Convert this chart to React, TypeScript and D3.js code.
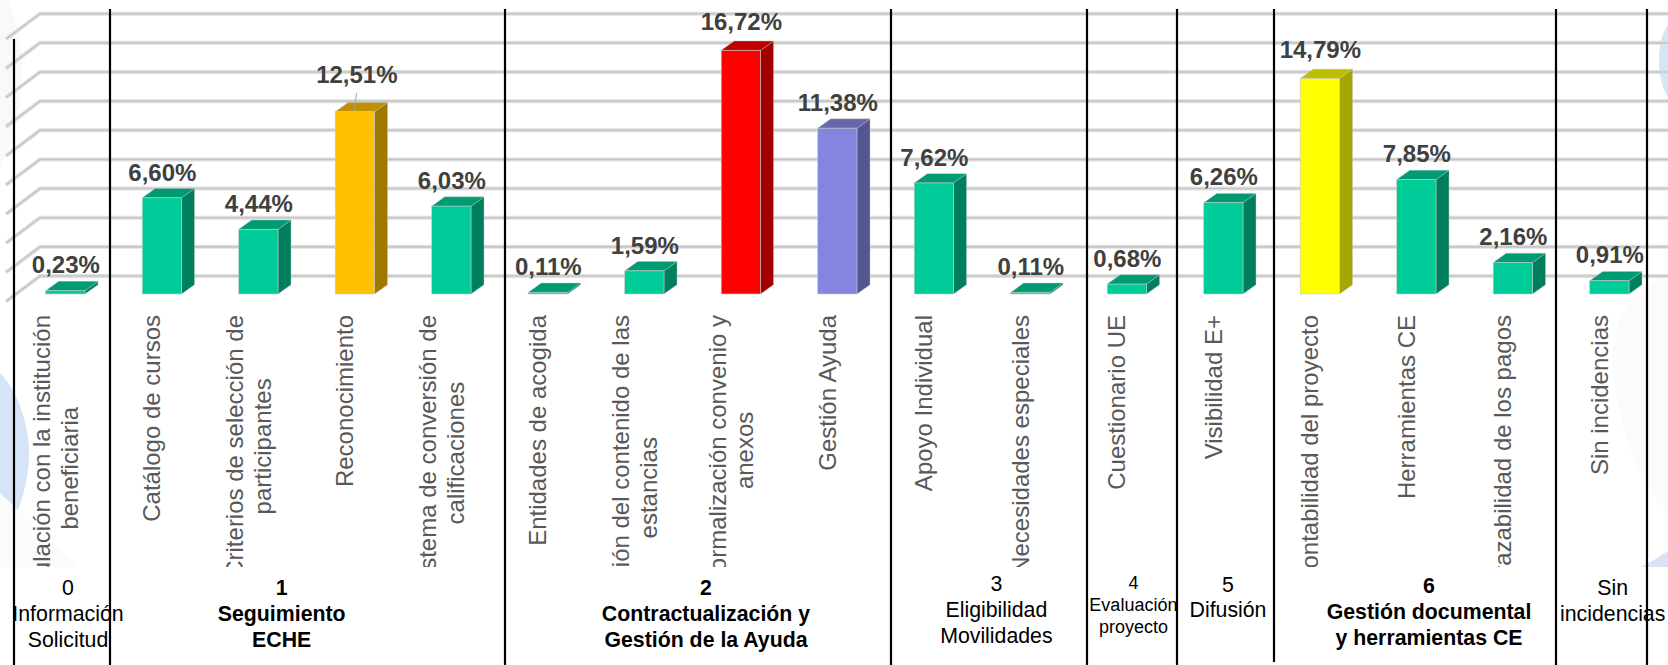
import React, { useRef, useEffect } from 'react';
import * as d3 from 'd3';

const categories = [
  ['Vinculación con la institución', 'beneficiaria'],
  ['Catálogo de cursos'],
  ['Criterios de selección de', 'participantes'],
  ['Reconocimiento'],
  ['Sistema de conversión de', 'calificaciones'],
  ['Entidades de acogida'],
  ['Descripción del contenido de las', 'estancias'],
  ['Formalización convenio y', 'anexos'],
  ['Gestión Ayuda'],
  ['Apoyo Individual'],
  ['Necesidades especiales'],
  ['Cuestionario UE'],
  ['Visibilidad E+'],
  ['Contabilidad del proyecto'],
  ['Herramientas CE'],
  ['Trazabilidad de los pagos'],
  ['Sin incidencias'],
];
const values = [0.23, 6.6, 4.44, 12.51, 6.03, 0.11, 1.59, 16.72, 11.38, 7.62, 0.11, 0.68, 6.26, 14.79, 7.85, 2.16, 0.91];
const barTones = ['g', 'g', 'g', 'o', 'g', 'g', 'g', 'r', 'p', 'g', 'g', 'g', 'g', 'y', 'g', 'g', 'g'];
const gridTicks = [0, 2, 4, 6, 8, 10, 12, 14, 16, 18];

const groupTitles = [
  ['0', 'Información', 'Solicitud'],
  ['1', 'Seguimiento', 'ECHE'],
  ['2', 'Contractualización y', 'Gestión de la Ayuda'],
  ['3', 'Eligibilidad', 'Movilidades'],
  ['4', 'Evaluación', 'proyecto'],
  ['5', 'Difusión'],
  ['6', 'Gestión documental', 'y herramientas CE'],
  ['Sin', 'incidencias'],
];
const groupBold = [false, true, true, false, false, false, true, false];

// layout of the footer boxes, hand placed in the original slide
const groupX = [68, 281.7, 706, 996.4, 1133.4, 1228, 1429, 1612.7];
const groupY = [595, 595, 595, 591, 589, 592, 593, 595];
const groupSize = [21.3, 21.3, 21.3, 21.3, 18, 21.3, 21.3, 21.3];
const groupLeading = [26, 26, 26, 26, 22, 25, 26, 26];
const separators = [
  { x: 14, top: 39, bottom: 665 },
  { x: 110, top: 9, bottom: 665 },
  { x: 505, top: 9, bottom: 665 },
  { x: 891, top: 9, bottom: 665 },
  { x: 1087, top: 9, bottom: 665 },
  { x: 1177, top: 9, bottom: 665 },
  { x: 1274, top: 9, bottom: 662 },
  { x: 1556, top: 9, bottom: 665 },
  { x: 1647, top: 9, bottom: 665 },
];

const tones: Record<string, { front: string; top: string; side: string }> = {
  g: { front: '#00cc99', top: '#009a73', side: '#007f5f' },
  o: { front: '#ffc000', top: '#c09000', side: '#a07800' },
  r: { front: '#ff0000', top: '#c00000', side: '#a00000' },
  p: { front: '#8585e0', top: '#6666a8', side: '#555590' },
  y: { front: '#ffff00', top: '#bfbf00', side: '#a6a600' },
};

const FONT = "'Liberation Sans', Arial, sans-serif";
const W = 1668;
const H = 665;
const depthX = 13;
const depthY = 9.3;

export default function App() {
  const svgRef = useRef<SVGSVGElement>(null);

  useEffect(() => {
    if (!svgRef.current) return;
    const svg = d3.select(svgRef.current);
    svg.selectAll('*').remove();

    const x = d3.scaleBand<number>()
      .domain(values.map((_, i) => i))
      .range([17.1, 1657.6])
      .paddingInner(0.593)
      .paddingOuter(0.2965);
    const y = d3.scaleLinear().domain([0, 18]).range([294, 31.7]);
    const bw = x.bandwidth();

    // Faint background artwork
    const bg = svg.append('g');
    bg.append('path').attr('d', 'M8,0 C30,50 26,110 0,170 L0,0 Z').attr('fill', '#f9f9f9');
    bg.append('path').attr('d', 'M0,493 L18,510 Q40,535 80,567 L0,567 Z').attr('fill', '#fbfbfb');
    bg.append('path').attr('d', 'M0,373 C22,395 33,440 28,470 Q25,492 18,510 L0,493 Z').attr('fill', '#d6e4f5');
    bg.append('path').attr('d', 'M1668,25 C1656,40 1656,80 1668,97 Z').attr('fill', '#d6e4f5');
    bg.append('path').attr('d', 'M1668,275 C1625,290 1606,330 1615,385 C1625,450 1645,495 1668,510 Z').attr('fill', '#fbfbfb');
    bg.append('path').attr('d', 'M1641,567 Q1655,560 1668,551 L1668,567 Z').attr('fill', '#d6e4f5');

    // Gridlines, back wall and left wall
    const grid = svg.append('g').attr('fill', 'none');
    gridTicks.forEach((t) => {
      const wy = y(t) - 18;
      const path = `M6,${wy + 25.5} L40,${wy} L${W},${wy}`;
      grid.append('path').attr('d', path).attr('stroke', '#e0e0e0').attr('stroke-width', 4);
      grid.append('path').attr('d', path).attr('stroke', '#c6c6c6').attr('stroke-width', 1.6);
    });

    // Bars
    const bars = svg.append('g');
    values.forEach((v, i) => {
      const left = x(i) || 0;
      const right = left + bw;
      const base = y(0);
      const top = y(v);
      const tone = tones[barTones[i]];
      bars.append('path')
        .attr('d', `M${right},${top} L${right + depthX},${top - depthY} L${right + depthX},${base - depthY} L${right},${base} Z`)
        .attr('fill', tone.side).attr('stroke', '#b8c4c0').attr('stroke-width', 0.4);
      bars.append('path')
        .attr('d', `M${left},${top} L${left + depthX},${top - depthY} L${right + depthX},${top - depthY} L${right},${top} Z`)
        .attr('fill', tone.top).attr('stroke', '#b8c4c0').attr('stroke-width', 0.4);
      bars.append('rect')
        .attr('x', left).attr('y', top).attr('width', bw).attr('height', base - top)
        .attr('fill', tone.front).attr('stroke', '#c4ccc8').attr('stroke-width', 0.6);
    });

    // Leader for the one label that was dragged away from its bar
    const reconocimiento = 3;
    const lx = (x(reconocimiento) || 0) + bw / 2;
    svg.append('line')
      .attr('x1', lx + 1.7).attr('y1', y(values[reconocimiento]) - 19)
      .attr('x2', lx - 0.7).attr('y2', y(values[reconocimiento]))
      .attr('stroke', '#a6a6a6').attr('stroke-width', 1);

    // Value labels
    svg.append('g')
      .selectAll('text')
      .data(values)
      .enter()
      .append('text')
      .attr('x', (_, i) => (x(i) || 0) + bw / 2 + (i === reconocimiento ? 2 : 0.5))
      .attr('y', (d, i) => y(d) - (i === reconocimiento ? 28.5 : d > 14 ? 20.5 : 17.3))
      .attr('text-anchor', 'middle')
      .attr('font-family', FONT)
      .attr('font-size', 24)
      .attr('font-weight', 700)
      .attr('fill', '#404040')
      .text((d) => `${d3.format('.2f')(d).replace('.', ',')}%`);

    // Rotated category labels, cut off at the bottom of the axis box
    svg.append('clipPath').attr('id', 'cat-clip')
      .append('rect').attr('x', 0).attr('y', 300).attr('width', W).attr('height', 267);
    const cats = svg.append('g').attr('clip-path', 'url(#cat-clip)');
    categories.forEach((lines, i) => {
      const cx = (x(i) || 0) + bw / 2 - 1.5;
      const texts = lines.map((line, j) => cats.append('text')
        .attr('text-anchor', 'middle')
        .attr('font-family', FONT)
        .attr('font-size', 24)
        .attr('fill', '#595959')
        .attr('data-line', j)
        .text(line));
      const longest = d3.max(texts, (t) => (t.node() as SVGTextElement).getComputedTextLength()) || 0;
      texts.forEach((t, j) => {
        const bx = cx + (j - (lines.length - 1) / 2) * 27.6;
        t.attr('transform', `translate(${bx},${315 + longest / 2}) rotate(-90)`);
      });
    });

    // Group separators
    svg.append('g')
      .selectAll('line')
      .data(separators)
      .enter()
      .append('line')
      .attr('x1', (d) => d.x).attr('x2', (d) => d.x)
      .attr('y1', (d) => d.top).attr('y2', (d) => d.bottom)
      .attr('stroke', '#000').attr('stroke-width', 2.2);

    // Group titles
    groupTitles.forEach((lines, i) => {
      lines.forEach((line, j) => {
        svg.append('text')
          .attr('x', groupX[i])
          .attr('y', groupY[i] + j * groupLeading[i])
          .attr('text-anchor', 'middle')
          .attr('font-family', FONT)
          .attr('font-size', groupSize[i])
          .attr('font-weight', groupBold[i] ? 700 : 400)
          .attr('fill', '#000')
          .text(line);
      });
    });
  }, []);

  return (
    <svg
      ref={svgRef}
      width={W}
      height={H}
      style={{ position: 'absolute', left: 0, top: 0, display: 'block', background: '#fff' }}
    />
  );
}
